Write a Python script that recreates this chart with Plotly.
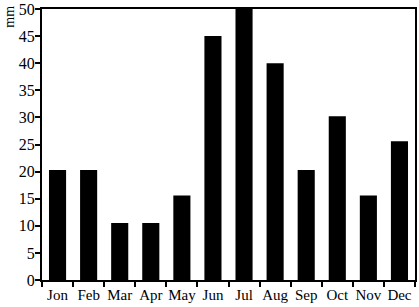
import plotly.graph_objects as go

months = ["Jon", "Feb", "Mar", "Apr", "May", "Jun", "Jul", "Aug", "Sep", "Oct", "Nov", "Dec"]
rain_mm = [20.3, 20.3, 10.5, 10.5, 15.6, 45, 50, 40, 20.3, 30.2, 15.6, 25.6]
y_ticks = [0, 5, 10, 15, 20, 25, 30, 35, 40, 45, 50]

fig = go.Figure(go.Bar(x=months, y=rain_mm, marker=dict(color="black", line=dict(width=0)), width=0.55))

fam = "Liberation Serif"
tf = dict(family=fam, size=15, color="black")
fig.update_layout(
    width=419, height=307,
    margin=dict(l=42, r=4, t=9, b=27, autoexpand=False),
    plot_bgcolor="white", paper_bgcolor="white",
    font=tf, showlegend=False,
    xaxis=dict(showline=True, linecolor="black", linewidth=2, mirror=True,
               ticks="outside", ticklen=5, tickcolor="black", tickwidth=2,
               tickson="boundaries", showgrid=False, range=[-0.5, 11.5],
               tickangle=0, tickfont=tf, automargin=False),
    yaxis=dict(showline=True, linecolor="black", linewidth=2, mirror=True,
               ticks="outside", ticklen=5, tickcolor="black", tickwidth=2,
               tickvals=y_ticks, range=[0, 50], showgrid=False, zeroline=False,
               tickfont=dict(family=fam, size=16, color="black"),
               ticklabeloverflow="allow", automargin=False, ticklabelstandoff=-3),
    annotations=[dict(text="mm", textangle=-90, xref="paper", yref="paper",
                      x=-0.088, y=1.02, xanchor="center", yanchor="top",
                      showarrow=False, font=dict(family=fam, size=14, color="black"))],
)
fig.write_html("out.html")
